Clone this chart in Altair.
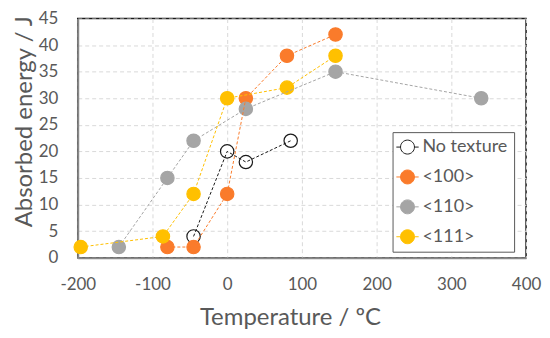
import altair as alt
import pandas as pd

series_order = ["No texture", "<100>", "<110>", "<111>"]
fill_colors = ["#FFFFFF", "#FA7B2B", "#A5A5A5", "#FFC000"]
stroke_colors = ["#1A1A1A", "#FA7B2B", "#A5A5A5", "#FFC000"]

nt_x = [-45, 0, 25, 85]
nt_y = [4, 20, 18, 22]
s100_x = [-80, -45, 0, 25, 80, 145]
s100_y = [2, 2, 12, 30, 38, 42]
s110_x = [-145, -80, -45, 25, 145, 340]
s110_y = [2, 15, 22, 28, 35, 30]
s111_x = [-196, -86, -45, 0, 80, 145]
s111_y = [2, 4, 12, 30, 32, 38]

rows = []
for name, xs, ys in [("No texture", nt_x, nt_y), ("<100>", s100_x, s100_y),
                     ("<110>", s110_x, s110_y), ("<111>", s111_x, s111_y)]:
    for a, b in zip(xs, ys):
        rows.append({"series": name, "T": a, "E": b})
df = pd.DataFrame(rows)

FONT = "Lato"
TXT = "#595959"
H = 240

x_enc = alt.X("T:Q", scale=alt.Scale(domain=[-200, 400], nice=False),
              axis=alt.Axis(values=[-200, -100, 0, 100, 200, 300, 400], title="Temperature / ºC",
                            titleX=213, titleY=60, titleBaseline="middle",
                            labelPadding=19, labelFlush=False, labelExpr="'' + datum.value"))
y_enc = alt.Y("E:Q", scale=alt.Scale(domain=[0, 45], nice=False),
              axis=alt.Axis(values=list(range(0, 50, 5)), title="Absorbed energy / J",
                            titleX=-53, titleY=103, titleBaseline="middle", titleAngle=-90,
                            labelPadding=20, labelExpr="'' + datum.value"))

legend_symbol = "M -1.6 0 L -1 0 M 1 0 L 1.6 0 M -1 0 A 1 1 0 1 0 1 0 A 1 1 0 1 0 -1 0 Z"
leg = alt.Legend(title=None, symbolType=legend_symbol)

lines = alt.Chart(df).mark_line(strokeWidth=1, strokeDash=[3, 2]).encode(
    x=x_enc, y=y_enc,
    stroke=alt.Stroke("series:N", scale=alt.Scale(domain=series_order, range=stroke_colors), legend=leg),
    detail="series:N",
)

points = alt.Chart(df).mark_point(size=180, filled=False, opacity=1, strokeWidth=1.2).encode(
    x=x_enc, y=y_enc,
    fill=alt.Fill("series:N", scale=alt.Scale(domain=series_order, range=fill_colors), legend=leg),
    stroke=alt.Stroke("series:N", scale=alt.Scale(domain=series_order, range=stroke_colors), legend=leg),
)

chart = alt.layer(points, lines).properties(
    width=450, height=H,
    autosize=alt.AutoSizeParams(type="none"),
    padding={"left": 70, "top": 10, "right": 16, "bottom": 72},
).configure_view(
    stroke="#1A1A1A", strokeWidth=1.5
).configure_axis(
    grid=True, gridColor="#D9D9D9", gridDash=[4, 3], gridWidth=1,
    domainColor="#898989", domainWidth=2, ticks=False,
    labelFont=FONT, labelFontSize=17, labelColor=TXT,
    titleFont=FONT, titleFontSize=24, titleColor=TXT, titleFontWeight="normal",
).configure_legend(
    orient="none", legendX=316, legendY=114,
    strokeColor="#595959", fillColor="#FFFFFF", padding=6,
    symbolSize=196, symbolStrokeWidth=1,
    labelFont=FONT, labelFontSize=18, labelColor=TXT, labelOffset=6,
    rowPadding=12,
)

chart.save("out.html", embed_options={"renderer": "svg", "actions": False})
